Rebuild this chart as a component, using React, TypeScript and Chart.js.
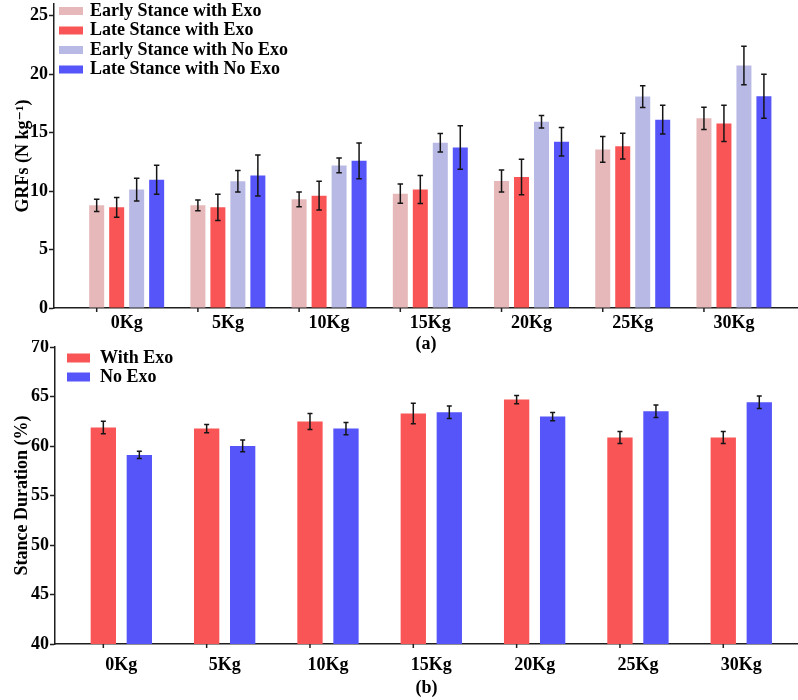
import React, { useEffect, useRef } from 'react';
import { Chart, registerables } from 'chart.js';

Chart.register(...registerables);

// Load conditions shared by both panels
const loads = ['0Kg', '5Kg', '10Kg', '15Kg', '20Kg', '25Kg', '30Kg'];

// (a) Ground reaction forces, mean and SD (N/kg)
const earlyWithExo = [8.78, 8.78, 9.3, 9.78, 10.87, 13.56, 16.22];
const earlyWithExoSd = [0.53, 0.46, 0.63, 0.82, 0.94, 1.1, 0.96];
const lateWithExo = [8.61, 8.61, 9.61, 10.13, 11.21, 13.84, 15.79];
const lateWithExoSd = [0.84, 1.12, 1.23, 1.2, 1.52, 1.1, 1.56];
const earlyNoExo = [10.13, 10.84, 12.19, 14.13, 15.93, 18.08, 20.74];
const earlyNoExoSd = [0.97, 0.92, 0.63, 0.79, 0.53, 0.93, 1.65];
const lateNoExo = [10.96, 11.33, 12.59, 13.73, 14.22, 16.11, 18.11];
const lateNoExoSd = [1.24, 1.75, 1.53, 1.86, 1.22, 1.23, 1.89];

// (b) Stance duration, mean and SD (% of gait cycle)
const stanceWithExo = [61.87, 61.76, 62.47, 63.28, 64.69, 60.85, 60.85];
const stanceWithExoSd = [0.62, 0.42, 0.81, 1.03, 0.42, 0.61, 0.61];
const stanceNoExo = [59.1, 60.01, 61.76, 63.41, 62.97, 63.51, 64.42];
const stanceNoExoSd = [0.37, 0.59, 0.62, 0.62, 0.42, 0.64, 0.64];

const PINK = '#e6b8b9';
const RED = '#f95556';
const LAVENDER = '#b9b9e6';
const BLUE = '#5555f9';
const INK = '#000000';
const AXIS = '#1e1e1e';

const serifBold = {
  family: "'Liberation Serif', 'Times New Roman', 'DejaVu Serif', serif",
  size: 18,
  weight: 'bold' as const,
};
const fontString = (size: number) =>
  `bold ${size}px 'Liberation Serif', 'Times New Roman', 'DejaVu Serif', serif`;

const points = (values: number[]) => values.map((y, i) => ({ x: i, y }));

// Vertical SD whiskers with caps, placed on each drawn bar.
const errorBars = (capWidth: number, lineWidth: number) => ({
  id: 'errorBars',
  afterDatasetsDraw(chart: any) {
    const { ctx } = chart;
    const yScale = chart.scales.y;
    ctx.save();
    ctx.strokeStyle = '#151515';
    ctx.lineWidth = lineWidth;
    chart.data.datasets.forEach((ds: any, di: number) => {
      const sd: number[] | undefined = ds.sd;
      if (!sd) return;
      chart.getDatasetMeta(di).data.forEach((bar: any, i: number) => {
        const v = ds.data[i].y;
        const top = yScale.getPixelForValue(v + sd[i]);
        const bottom = yScale.getPixelForValue(v - sd[i]);
        ctx.beginPath();
        ctx.moveTo(bar.x, top);
        ctx.lineTo(bar.x, bottom);
        ctx.moveTo(bar.x - capWidth / 2, top);
        ctx.lineTo(bar.x + capWidth / 2, top);
        ctx.moveTo(bar.x - capWidth / 2, bottom);
        ctx.lineTo(bar.x + capWidth / 2, bottom);
        ctx.stroke();
      });
    });
    ctx.restore();
  },
});

// Small downward tick under the first bar of each load group.
const groupTicks = (length: number) => ({
  id: 'groupTicks',
  afterDraw(chart: any) {
    const { ctx, chartArea } = chart;
    ctx.save();
    ctx.strokeStyle = AXIS;
    ctx.lineWidth = 1.5;
    ctx.beginPath();
    chart.getDatasetMeta(0).data.forEach((bar: any) => {
      ctx.moveTo(bar.x, chartArea.bottom);
      ctx.lineTo(bar.x, chartArea.bottom + length);
    });
    ctx.stroke();
    ctx.restore();
  },
});

// Legend of filled swatches stacked in the upper-left corner of the plot.
const cornerLegend = (o: {
  firstRow: number;
  rowHeight: number;
  boxLeft: number;
  boxWidth: number;
  boxHeight: number;
  textLeft: number;
}) => ({
  id: 'cornerLegend',
  afterDraw(chart: any) {
    const { ctx, chartArea } = chart;
    ctx.save();
    ctx.font = fontString(18);
    ctx.textBaseline = 'middle';
    ctx.textAlign = 'left';
    chart.data.datasets.forEach((ds: any, i: number) => {
      const cy = chartArea.top + o.firstRow + i * o.rowHeight;
      ctx.fillStyle = ds.backgroundColor;
      ctx.fillRect(chartArea.left + o.boxLeft, cy - o.boxHeight / 2, o.boxWidth, o.boxHeight);
      ctx.fillStyle = INK;
      ctx.fillText(ds.label, chartArea.left + o.textLeft, cy);
    });
    ctx.restore();
  },
});

const xAxis = (min: number, max: number, height: number, labelPad: number, title: string, titlePad: number) => ({
  type: 'linear' as const,
  min,
  max,
  offset: false,
  afterBuildTicks: (s: any) => {
    s.ticks = loads.map((_, i) => ({ value: i }));
  },
  afterFit: (s: any) => {
    s.height = height;
    s.paddingLeft = 0;
    s.paddingRight = 0;
  },
  grid: { display: false, drawTicks: false, offset: false },
  border: { display: true, color: AXIS, width: 1.5 },
  ticks: {
    padding: labelPad,
    color: INK,
    font: serifBold,
    autoSkip: false,
    maxRotation: 0,
    callback: (v: any) => loads[v] ?? '',
  },
  title: { display: true, text: title, color: INK, font: serifBold, padding: { top: 0, bottom: titlePad } },
});

const yAxis = (min: number, max: number, width: number, title: string, titlePad: number) => ({
  min,
  max,
  beginAtZero: false,
  afterFit: (s: any) => {
    s.width = width;
    s.paddingTop = 0;
    s.paddingBottom = 0;
  },
  grid: { drawOnChartArea: false, drawTicks: true, tickLength: 5, color: AXIS, tickWidth: 1.5 },
  border: { display: true, color: AXIS, width: 1.5 },
  ticks: { stepSize: 5, includeBounds: false, padding: 1, color: INK, font: serifBold },
  title: { display: true, text: title, color: INK, font: serifBold, padding: { top: titlePad, bottom: 0 } },
});

function grfConfig(): any {
  const bar = { categoryPercentage: 0.79, barPercentage: 0.75, borderWidth: 0 };
  return {
    type: 'bar',
    data: {
      datasets: [
        { label: 'Early Stance with Exo', data: points(earlyWithExo), sd: earlyWithExoSd, backgroundColor: PINK, ...bar },
        { label: 'Late Stance with Exo', data: points(lateWithExo), sd: lateWithExoSd, backgroundColor: RED, ...bar },
        { label: 'Early Stance with No Exo', data: points(earlyNoExo), sd: earlyNoExoSd, backgroundColor: LAVENDER, ...bar },
        { label: 'Late Stance with No Exo', data: points(lateNoExo), sd: lateNoExoSd, backgroundColor: BLUE, ...bar },
      ],
    },
    options: {
      responsive: false,
      animation: false,
      layout: { padding: { top: 4, right: 0, bottom: 0, left: 0 } },
      plugins: { legend: { display: false }, tooltip: { enabled: false } },
      scales: {
        x: xAxis(-0.718, 6.633, 52, 5, '(a)', 5),
        y: yAxis(0, 26, 54, 'GRFs (N kg⁻¹)', 13),
      },
    },
    plugins: [
      errorBars(5.5, 1.5),
      groupTicks(4),
      cornerLegend({ firstRow: 7, rowHeight: 19.5, boxLeft: 5, boxWidth: 24, boxHeight: 8, textLeft: 36 }),
    ],
  };
}

function stanceConfig(): any {
  const bar = { categoryPercentage: 0.697, barPercentage: 0.703, borderWidth: 0 };
  return {
    type: 'bar',
    data: {
      datasets: [
        { label: 'With Exo', data: points(stanceWithExo), sd: stanceWithExoSd, backgroundColor: RED, ...bar },
        { label: 'No Exo', data: points(stanceNoExo), sd: stanceNoExoSd, backgroundColor: BLUE, ...bar },
      ],
    },
    options: {
      responsive: false,
      animation: false,
      layout: { padding: { top: 7, right: 0, bottom: 0, left: 0 } },
      plugins: { legend: { display: false }, tooltip: { enabled: false } },
      scales: {
        x: xAxis(-0.642, 6.549, 56, 11, '(b)', 1),
        y: yAxis(40, 70, 55, 'Stance Duration (%)', 12),
      },
    },
    plugins: [
      errorBars(5, 1.5),
      groupTicks(4),
      cornerLegend({ firstRow: 11, rowHeight: 19, boxLeft: 12, boxWidth: 23, boxHeight: 9, textLeft: 45 }),
    ],
  };
}

function Panel({ top, height, makeConfig }: { top: number; height: number; makeConfig: () => any }) {
  const ref = useRef<HTMLCanvasElement>(null);
  useEffect(() => {
    const chart = new Chart(ref.current as HTMLCanvasElement, makeConfig());
    return () => chart.destroy();
  }, [makeConfig]);
  return (
    <canvas
      ref={ref}
      width={798}
      height={height}
      style={{ position: 'absolute', left: 0, top, width: 798, height }}
    />
  );
}

export default function App() {
  return (
    <div style={{ position: 'absolute', left: 0, top: 0, width: 798, height: 700, background: '#ffffff' }}>
      <Panel top={0} height={360} makeConfig={grfConfig} />
      <Panel top={340} height={360} makeConfig={stanceConfig} />
    </div>
  );
}
